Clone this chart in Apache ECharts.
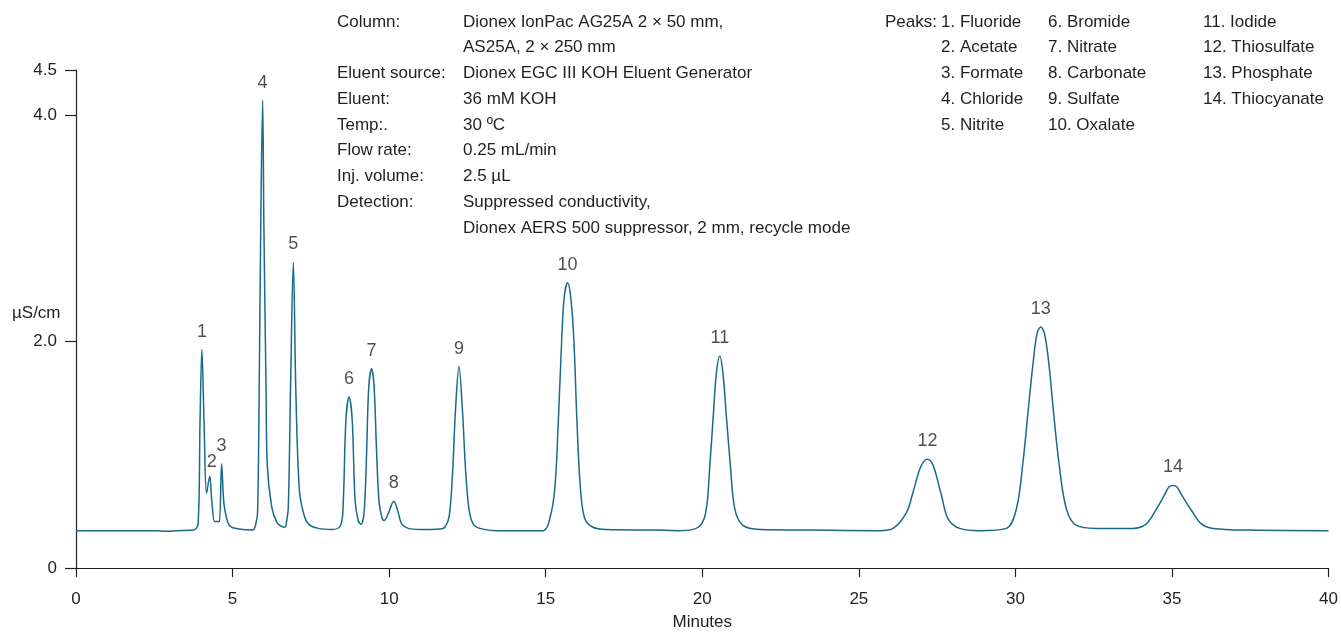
<!DOCTYPE html>
<html>
<head>
<meta charset="utf-8">
<script src="https://cdn.jsdelivr.net/npm/echarts@6/dist/echarts.min.js"></script>
<style>
  html, body { margin: 0; padding: 0; background: #fff; }
  #chart { width: 1341px; height: 636px; }
</style>
</head>
<body>
<div id="chart"></div>
<script>
// trace: retention time (min) / conductivity (µS/cm)
const timeMin = [
  0, 2.5, 2.9, 3.2, 3.75, 3.9, 3.96, 4.02, 4.09, 4.17, 4.27, 4.34, 4.43, 4.53,
  4.58, 4.65, 4.72, 4.81, 4.92, 5.2, 5.65, 5.75, 5.8, 5.85, 5.9, 5.96, 6.0,
  6.07, 6.11, 6.25, 6.41, 6.55, 6.67, 6.72, 6.78, 6.85, 6.94, 7.02, 7.13,
  7.26, 7.42, 7.74, 8.2, 8.45, 8.53, 8.62, 8.72, 8.82, 8.91, 9.01, 9.1,
  9.2, 9.28, 9.35, 9.44, 9.52, 9.6, 9.68, 9.78, 9.84, 9.97, 10.15, 10.29,
  10.4, 10.61, 10.98, 11.62, 11.78, 11.92, 12.03, 12.12, 12.23, 12.34, 12.44,
  12.55, 12.68, 12.9, 13.43, 14.92, 15.13, 15.29, 15.4, 15.51, 15.59, 15.7,
  15.8, 15.9, 16.0, 16.11, 16.25, 16.51, 16.94, 18.5, 19.28, 19.87, 20.11,
  20.24, 20.35, 20.45, 20.56, 20.66, 20.77, 20.9, 21.04, 21.3, 21.84, 23.5,
  25.67, 26.09, 26.52, 26.73, 26.94, 27.07, 27.19, 27.31, 27.42, 27.64, 27.85,
  28.22, 28.86, 29.71, 30.03, 30.24, 30.4, 30.56, 30.69, 30.81, 30.93, 31.07,
  31.22, 31.39, 31.63, 31.95, 32.58, 33.75, 34.18, 34.5, 34.77, 34.9, 35.03,
  35.16, 35.3, 35.62, 35.94, 36.31, 37.5, 40
];
const signal = [
  0.33, 0.33, 0.325, 0.33, 0.335, 0.39, 1.28, 1.93, 1.28, 0.66, 0.81, 0.58, 0.41, 0.41,
  0.41, 0.92, 0.58, 0.44, 0.37, 0.345, 0.335, 0.4, 0.5, 1.57, 3.03, 4.13, 3.03,
  1.57, 0.9, 0.54, 0.405, 0.37, 0.36, 0.4, 0.54, 1.57, 2.7, 1.57, 0.7,
  0.49, 0.39, 0.35, 0.34, 0.376, 0.55, 1.31, 1.51, 1.31, 0.61, 0.42, 0.385,
  0.49, 1.02, 1.6, 1.76, 1.6, 1.02, 0.58, 0.435, 0.42, 0.48, 0.59, 0.49,
  0.39, 0.35, 0.34, 0.345, 0.36, 0.46, 0.87, 1.4, 1.78, 1.4, 0.87,
  0.52, 0.39, 0.35, 0.33, 0.33, 0.435, 0.7, 1.28, 2.01, 2.39, 2.52,
  2.39, 2.01, 1.28, 0.7, 0.435, 0.36, 0.34, 0.335, 0.33, 0.36, 0.49,
  0.9, 1.34, 1.72, 1.87, 1.72, 1.34, 0.9, 0.52, 0.376, 0.34, 0.335,
  0.33, 0.35, 0.49, 0.67, 0.87, 0.94, 0.96, 0.94, 0.87, 0.64, 0.435,
  0.35, 0.33, 0.35, 0.52, 0.93, 1.37, 1.8, 2.07, 2.13, 2.07, 1.8,
  1.37, 0.93, 0.52, 0.376, 0.35, 0.35, 0.39, 0.52, 0.65, 0.715, 0.73,
  0.715, 0.65, 0.51, 0.39, 0.35, 0.335, 0.33
];

const peakNumbers = ['1', '2', '3', '4', '5', '6', '7', '8', '9', '10', '11', '12', '13', '14'];
const peakTimes = [4.02, 4.27, 4.65, 5.96, 6.94, 8.72, 9.44, 10.15, 12.23, 15.7, 20.56, 27.19, 30.81, 35.03];
const peakHeights = [1.93, 0.81, 0.92, 4.13, 2.7, 1.51, 1.76, 0.59, 1.78, 2.52, 1.87, 0.96, 2.13, 0.73];
const peakNames = [
  'Fluoride', 'Acetate', 'Formate', 'Chloride', 'Nitrite', 'Bromide', 'Nitrate',
  'Carbonate', 'Sulfate', 'Oxalate', 'Iodide', 'Thiosulfate', 'Phosphate', 'Thiocyanate'
];

const yTickValues = [0, 2, 4, 4.4];
const yTickLabels = ['0', '2.0', '4.0', '4.5'];

const conditionKeys = ['Column:', '', 'Eluent source:', 'Eluent:', 'Temp:.', 'Flow rate:', 'Inj. volume:', 'Detection:', ''];
const conditionValues = [
  'Dionex IonPac AG25A 2 \u00d7 50 mm,',
  'AS25A, 2 \u00d7 250 mm',
  'Dionex EGC III KOH Eluent Generator',
  '36 mM KOH',
  '30 \u00baC',
  '0.25 mL/min',
  '2.5 \u00b5L',
  'Suppressed conductivity,',
  'Dionex AERS 500 suppressor, 2 mm, recycle mode'
];

const ink = '#231f20';
const traceColor = '#176a89';
const font = '"Liberation Sans", Arial, sans-serif';
const fs = 17;

const textEl = (text, x, y) => ({
  type: 'text',
  x: x,
  y: y,
  style: { text: text, fill: ink, font: fs + 'px ' + font, verticalAlign: 'middle' }
});

let graphics = [];
const lineStep = 25.75;
conditionKeys.forEach((k, i) => {
  if (k) graphics.push(textEl(k, 337, 22 + i * lineStep));
  graphics.push(textEl(conditionValues[i], 463, 22 + i * lineStep));
});
graphics.push(textEl('Peaks:', 885, 22));
const peakColX = [941, 1048, 1203];
peakNames.forEach((name, i) => {
  const col = Math.floor(i / 5);
  graphics.push(textEl((i + 1) + '. ' + name, peakColX[col], 22 + (i % 5) * lineStep));
});
graphics.push(textEl('\u00b5S/cm', 12, 313));

const labelData = peakNumbers.map((n, i) => {
  let item = { value: [peakTimes[i], peakHeights[i]], name: n };
  if (n === '2') item.label = { offset: [2, 4] };
  return item;
});

const chart = echarts.init(document.getElementById('chart'), null, { renderer: 'canvas' });
chart.setOption({
  animation: false,
  backgroundColor: '#fff',
  textStyle: { fontFamily: font, color: ink },
  grid: { left: 76, right: 12, top: 70, bottom: 63 },
  xAxis: {
    type: 'value',
    min: 0,
    max: 40,
    interval: 5,
    name: 'Minutes',
    nameLocation: 'middle',
    nameGap: 46,
    nameTextStyle: { fontSize: fs, color: ink, fontFamily: font },
    axisLine: { lineStyle: { color: ink, width: 1.2 } },
    axisTick: { length: 9, lineStyle: { color: ink, width: 1.2 } },
    axisLabel: { margin: 23, fontSize: fs, color: ink, fontFamily: font },
    splitLine: { show: false }
  },
  yAxis: {
    type: 'value',
    min: 0,
    max: 4.4,
    axisLine: { show: true, lineStyle: { color: ink, width: 1.2 } },
    axisTick: { show: true, length: 11, customValues: yTickValues, lineStyle: { color: ink, width: 1.2 } },
    axisLabel: {
      margin: 19,
      fontSize: fs,
      color: ink,
      fontFamily: font,
      customValues: yTickValues,
      formatter: (v) => {
        const i = yTickValues.findIndex((t) => Math.abs(t - v) < 1e-6);
        return i >= 0 ? yTickLabels[i] : '';
      }
    },
    splitLine: { show: false }
  },
  graphic: graphics,
  series: [
    {
      type: 'line',
      data: timeMin.map((t, i) => [t, signal[i]]),
      showSymbol: false,
      smooth: 0.35,
      lineStyle: { color: traceColor, width: 1.5 },
      z: 3
    },
    {
      type: 'scatter',
      data: labelData,
      symbolSize: 0,
      silent: true,
      label: {
        show: true,
        position: 'top',
        distance: 9,
        formatter: '{b}',
        fontSize: 18,
        color: ink,
        fontFamily: font
      },
      z: 4
    }
  ]
});
</script>
</body>
</html>
